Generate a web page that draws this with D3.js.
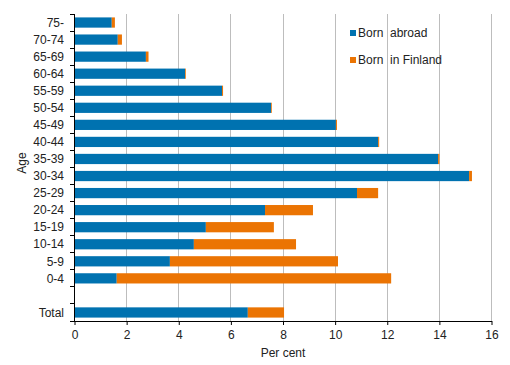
<!DOCTYPE html>
<html><head><meta charset="utf-8">
<script src="https://cdn.jsdelivr.net/npm/d3@7"></script>
<style>body{margin:0;background:#fff}svg{display:block;font-family:"Liberation Sans",Arial,sans-serif}</style>
</head><body><svg id="c" width="510" height="365"></svg>
<script>
const categories = ["75-","70-74","65-69","60-64","55-59","50-54","45-49","40-44","35-39","30-34","25-29","20-24","15-19","10-14","5-9","0-4","","Total"];
const bornAbroad = [1.43,1.66,2.74,4.24,5.66,7.54,10.03,11.65,13.95,15.14,10.84,7.31,5.04,4.58,3.66,1.62,null,6.65];
const bornFinland = [0.12,0.16,0.10,0.03,0.04,0.03,0.04,0.04,0.05,0.11,0.81,1.84,2.61,3.92,6.45,10.53,null,1.39];
const seriesNames = ["Born  abroad","Born  in Finland"];
const colors = ["#0072B0","#EB7403"];
const xTicks = [0,2,4,6,8,10,12,14,16];

const svg = d3.select("#c");
const L = 74.5, R = 491.5, T = 14, B = 321;
const x = d3.scaleLinear().domain([0,16]).range([L,R]);
const y = d3.scaleBand().domain(categories.map((d,i)=>i)).range([T,B]).paddingInner(0.4).paddingOuter(0.2);
const step = y.step();

// gridlines
svg.append("g").selectAll("line").data(xTicks.filter(d=>d>0)).join("line")
  .attr("x1",d=>x(d)).attr("x2",d=>x(d)).attr("y1",T).attr("y2",B)
  .attr("stroke","#BDBDBD").attr("stroke-width",1).attr("shape-rendering","crispEdges");

// bars
const data = categories.map((c,i)=>({i, a:bornAbroad[i], f:bornFinland[i]})).filter(d=>d.a!=null);
svg.append("g").selectAll("rect").data(data).join("rect")
  .attr("x",x(0)).attr("y",d=>y(d.i)).attr("height",y.bandwidth())
  .attr("width",d=>x(d.a)-x(0)).attr("fill",colors[0]);
svg.append("g").selectAll("rect").data(data).join("rect")
  .attr("x",d=>x(d.a)).attr("y",d=>y(d.i)).attr("height",y.bandwidth())
  .attr("width",d=>x(d.a+d.f)-x(d.a)).attr("fill",colors[1]);

// x axis
const xa = svg.append("g").attr("transform",`translate(0,${B})`)
  .call(d3.axisBottom(x).tickValues(xTicks).tickSize(4).tickSizeOuter(0).tickFormat(d3.format("d")));
xa.select(".domain").attr("stroke","#000");
xa.selectAll(".tick line").attr("stroke","#000");
xa.selectAll("text").attr("font-size",12).attr("fill","#222").attr("font-family","Liberation Sans, Arial").attr("dy","0.95em");

// y axis
svg.append("line").attr("x1",L).attr("x2",L).attr("y1",T).attr("y2",B).attr("stroke","#000").attr("shape-rendering","crispEdges");
const bounds = d3.range(categories.length+1).map(k=>T + k*step);
svg.append("g").selectAll("line").data(bounds).join("line")
  .attr("x1",L-5).attr("x2",L).attr("y1",d=>d).attr("y2",d=>d)
  .attr("stroke","#000").attr("shape-rendering","crispEdges");
svg.append("g").selectAll("text").data(categories.map((c,i)=>({c,i}))).join("text")
  .attr("x",64).attr("y",d=>y(d.i)+y.bandwidth()/2).attr("dy","0.35em")
  .attr("text-anchor","end").attr("font-size",12).attr("fill","#222").text(d=>d.c);

// axis titles
svg.append("text").attr("x",283).attr("y",357).attr("text-anchor","middle").attr("font-size",12).attr("fill","#222").text("Per cent");
svg.append("text").attr("transform","translate(26,163) rotate(-90)").attr("text-anchor","middle").attr("font-size",12).attr("fill","#222").text("Age");

// legend
const lg = svg.append("g");
seriesNames.forEach((s,k)=>{
  const ly = 33 + k*27;
  lg.append("rect").attr("x",350).attr("y",ly-3).attr("width",6).attr("height",6).attr("fill",colors[k]);
  lg.append("text").attr("x",358).attr("y",ly).attr("dy","0.35em").attr("font-size",12).attr("fill","#222")
    .style("white-space","pre").text(s);
});
</script></body></html>
